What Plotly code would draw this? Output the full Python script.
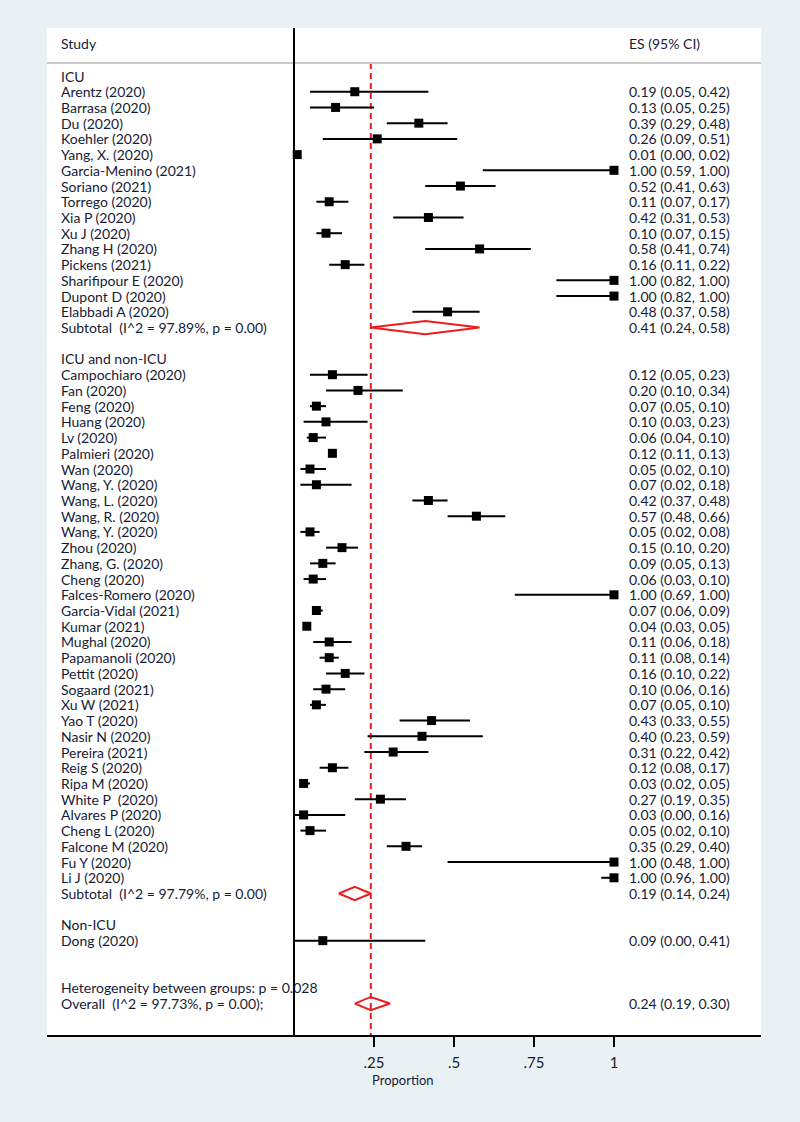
import plotly.graph_objects as go

# ---------------- data ----------------
icu_studies = ["Arentz (2020)", "Barrasa (2020)", "Du (2020)", "Koehler (2020)", "Yang, X. (2020)",
               "Garcia-Menino (2021)", "Soriano (2021)", "Torrego (2020)", "Xia P (2020)", "Xu J (2020)",
               "Zhang H (2020)", "Pickens (2021)", "Sharifipour E (2020)", "Dupont D (2020)", "Elabbadi A (2020)"]
icu_es = [0.19, 0.13, 0.39, 0.26, 0.01, 1.00, 0.52, 0.11, 0.42, 0.10, 0.58, 0.16, 1.00, 1.00, 0.48]
icu_lo = [0.05, 0.05, 0.29, 0.09, 0.00, 0.59, 0.41, 0.07, 0.31, 0.07, 0.41, 0.11, 0.82, 0.82, 0.37]
icu_hi = [0.42, 0.25, 0.48, 0.51, 0.02, 1.00, 0.63, 0.17, 0.53, 0.15, 0.74, 0.22, 1.00, 1.00, 0.58]
icu_sub = (0.41, 0.24, 0.58)
icu_sub_label = "Subtotal  (I^2 = 97.89%, p = 0.00)"

mix_studies = ["Campochiaro (2020)", "Fan (2020)", "Feng (2020)", "Huang (2020)", "Lv (2020)",
               "Palmieri (2020)", "Wan (2020)", "Wang, Y. (2020)", "Wang, L. (2020)", "Wang, R. (2020)",
               "Wang, Y. (2020)", "Zhou (2020)", "Zhang, G. (2020)", "Cheng (2020)", "Falces-Romero (2020)",
               "Garcia-Vidal (2021)", "Kumar (2021)", "Mughal (2020)", "Papamanoli (2020)", "Pettit (2020)",
               "Sogaard (2021)", "Xu W (2021)", "Yao T (2020)", "Nasir N (2020)", "Pereira (2021)",
               "Reig S (2020)", "Ripa M (2020)", "White P  (2020)", "Alvares P (2020)", "Cheng L (2020)",
               "Falcone M (2020)", "Fu Y (2020)", "Li J (2020)"]
mix_es = [0.12, 0.20, 0.07, 0.10, 0.06, 0.12, 0.05, 0.07, 0.42, 0.57, 0.05, 0.15, 0.09, 0.06, 1.00,
          0.07, 0.04, 0.11, 0.11, 0.16, 0.10, 0.07, 0.43, 0.40, 0.31, 0.12, 0.03, 0.27, 0.03, 0.05,
          0.35, 1.00, 1.00]
mix_lo = [0.05, 0.10, 0.05, 0.03, 0.04, 0.11, 0.02, 0.02, 0.37, 0.48, 0.02, 0.10, 0.05, 0.03, 0.69,
          0.06, 0.03, 0.06, 0.08, 0.10, 0.06, 0.05, 0.33, 0.23, 0.22, 0.08, 0.02, 0.19, 0.00, 0.02,
          0.29, 0.48, 0.96]
mix_hi = [0.23, 0.34, 0.10, 0.23, 0.10, 0.13, 0.10, 0.18, 0.48, 0.66, 0.08, 0.20, 0.13, 0.10, 1.00,
          0.09, 0.05, 0.18, 0.14, 0.22, 0.16, 0.10, 0.55, 0.59, 0.42, 0.17, 0.05, 0.35, 0.16, 0.10,
          0.40, 1.00, 1.00]
mix_sub = (0.19, 0.14, 0.24)
mix_sub_label = "Subtotal  (I^2 = 97.79%, p = 0.00)"

non_studies = ["Dong (2020)"]
non_es = [0.09]
non_lo = [0.00]
non_hi = [0.41]

groups = [("ICU", icu_studies, icu_es, icu_lo, icu_hi, icu_sub, icu_sub_label),
          ("ICU and non-ICU", mix_studies, mix_es, mix_lo, mix_hi, mix_sub, mix_sub_label),
          ("Non-ICU", non_studies, non_es, non_lo, non_hi, None, None)]

heterogeneity_label = "Heterogeneity between groups: p = 0.028"
overall = (0.24, 0.19, 0.30)
overall_label = "Overall  (I^2 = 97.73%, p = 0.00);"

tick_vals = [0.25, 0.5, 0.75, 1.0]
tick_text = [".25", ".5", ".75", "1"]
axis_title = "Proportion"

# ---------------- layout rows ----------------
FONT = "Lato"
TXT = "#161b36"
FS = 14

def nb(s):
    return s.replace(" ", "\u00a0")

def es_text(e, l, h):
    return f"{e:.2f} ({l:.2f}, {h:.2f})"

rows_label = []   # (row, text)
rows_es = []      # (row, text)
study_rows, study_es, study_lo, study_hi = [], [], [], []
diamonds = []     # (row, es, lo, hi)

r = 0
for gname, names, es, lo, hi, sub, sublabel in groups:
    rows_label.append((r, gname))
    r += 1
    for n, e, l, h in zip(names, es, lo, hi):
        rows_label.append((r, n))
        rows_es.append((r, es_text(e, l, h)))
        study_rows.append(r); study_es.append(e); study_lo.append(l); study_hi.append(h)
        r += 1
    if sub is not None:
        rows_label.append((r, sublabel))
        rows_es.append((r, es_text(*sub)))
        diamonds.append((r, *sub))
        r += 1
    r += 1
r += 1
rows_label.append((r, heterogeneity_label))
r += 1
rows_label.append((r, overall_label))
rows_es.append((r, es_text(*overall)))
diamonds.append((r, *overall))

fig = go.Figure()

# CI lines
cx, cy = [], []
for rr, l, h in zip(study_rows, study_lo, study_hi):
    cx += [l, h, None]
    cy += [rr, rr, None]
fig.add_trace(go.Scatter(x=cx, y=cy, mode="lines", line=dict(color="black", width=2),
                         hoverinfo="skip", showlegend=False))
# point estimates
fig.add_trace(go.Scatter(x=study_es, y=study_rows, mode="markers",
                         marker=dict(symbol="square", size=9, color="black"),
                         showlegend=False))
# diamonds
DH = 0.42
for rr, e, l, h in diamonds:
    fig.add_trace(go.Scatter(x=[l, e, h, e, l], y=[rr, rr - DH, rr, rr + DH, rr],
                             mode="lines", line=dict(color="#ee1c1c", width=2),
                             hoverinfo="skip", showlegend=False))

# text annotations
X_LEFT = -0.733
X_ES = 1.040
for rr, t in rows_label:
    fig.add_annotation(x=X_LEFT, y=rr, text=nb(t), xref="x", yref="y", xanchor="left",
                       yanchor="middle", showarrow=False, font=dict(family=FONT, size=FS, color=TXT))
for rr, t in rows_es:
    fig.add_annotation(x=X_ES, y=rr, text=nb(t), xref="x", yref="y", xanchor="left",
                       yanchor="middle", showarrow=False, font=dict(family=FONT, size=FS, color=TXT))
HEAD = -2.05
fig.add_annotation(x=X_LEFT, y=HEAD, text="Study", xref="x", yref="y", xanchor="left",
                   yanchor="middle", showarrow=False, font=dict(family=FONT, size=FS, color=TXT))
fig.add_annotation(x=X_ES, y=HEAD, text="ES (95% CI)", xref="x", yref="y", xanchor="left",
                   yanchor="middle", showarrow=False, font=dict(family=FONT, size=FS, color=TXT))
fig.add_annotation(x=0.2375, y=0, text=axis_title, xref="x", yref="paper", xanchor="left",
                   yanchor="top", yshift=-35, showarrow=False, font=dict(family=FONT, size=13, color=TXT))

# shapes
fig.add_shape(type="line", xref="paper", yref="y", x0=0, x1=1, y0=-0.83, y1=-0.83,
              line=dict(color="#c9c9c9", width=2))
fig.add_shape(type="line", xref="x", yref="paper", x0=0, x1=0, y0=0, y1=1,
              line=dict(color="black", width=2))
fig.add_shape(type="line", xref="x", yref="y", x0=overall[0], x1=overall[0], y0=-0.83, y1=61.1,
              line=dict(color="#ee1c1c", width=2, dash="6px,4px"), layer="below")

fig.update_layout(
    width=800, height=1122,
    margin=dict(l=47, r=39, t=28, b=87),
    paper_bgcolor="#e9f1f4", plot_bgcolor="white",
    xaxis=dict(range=[-0.7719, 1.4594], showgrid=False, zeroline=False, showline=True,
               linecolor="black", linewidth=2, ticks="outside", ticklen=10, tickwidth=2,
               tickcolor="black", tickvals=tick_vals, ticktext=tick_text, ticklabelstandoff=3,
               tickfont=dict(family=FONT, size=15, color=TXT)),
    yaxis=dict(range=[61.0, -3.053], showgrid=False, zeroline=False, showticklabels=False,
               showline=False),
    showlegend=False,
)

fig.write_html("out.html", config={"displayModeBar": False},
               post_script="document.body.style.margin='0px';document.body.style.overflow='hidden';")
